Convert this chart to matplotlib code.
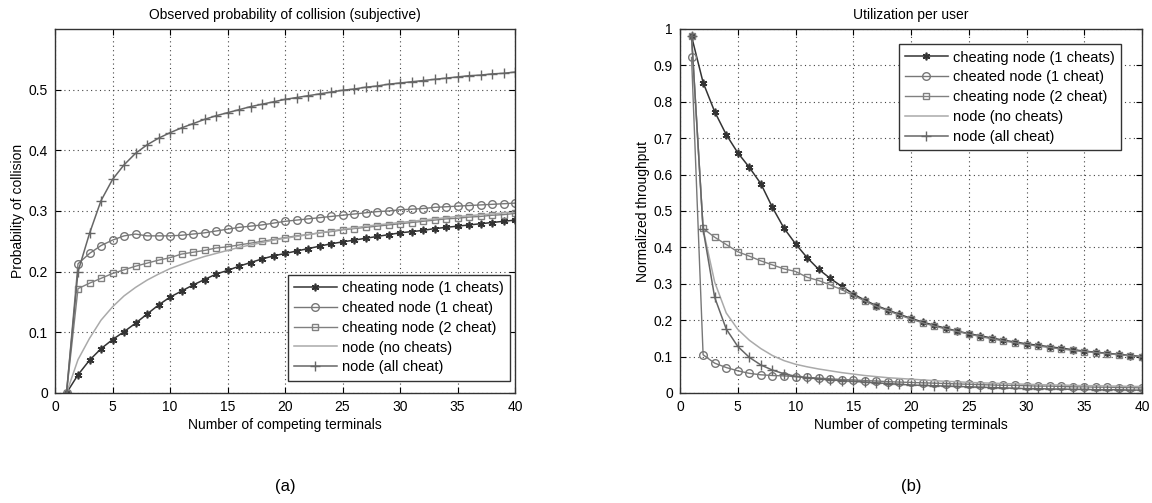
import numpy as np
import matplotlib.pyplot as plt

plt.rcParams['font.family'] = ['Liberation Sans', 'DejaVu Sans']

n = np.arange(1, 41)

# (a) probability of collision
pc_cheat1 = [0, 0.030, 0.054, 0.073, 0.088, 0.101, 0.115, 0.130, 0.145, 0.158,
             0.168, 0.178, 0.187, 0.196, 0.202, 0.209, 0.215, 0.221, 0.226, 0.230,
             0.234, 0.238, 0.242, 0.246, 0.249, 0.252, 0.255, 0.258, 0.261, 0.264,
             0.266, 0.268, 0.271, 0.273, 0.275, 0.277, 0.279, 0.281, 0.283, 0.285]
pc_cheated1 = [0, 0.213, 0.230, 0.243, 0.252, 0.259, 0.262, 0.259, 0.259, 0.259,
               0.260, 0.262, 0.264, 0.267, 0.270, 0.273, 0.275, 0.277, 0.280, 0.283,
               0.285, 0.287, 0.289, 0.291, 0.293, 0.295, 0.297, 0.299, 0.300, 0.302,
               0.303, 0.304, 0.306, 0.307, 0.308, 0.309, 0.310, 0.311, 0.312, 0.313]
pc_cheat2 = [0, 0.172, 0.181, 0.189, 0.197, 0.203, 0.209, 0.214, 0.219, 0.223,
             0.229, 0.232, 0.235, 0.239, 0.241, 0.244, 0.247, 0.250, 0.253, 0.256,
             0.259, 0.261, 0.264, 0.266, 0.269, 0.271, 0.273, 0.275, 0.277, 0.279,
             0.281, 0.283, 0.285, 0.287, 0.288, 0.290, 0.291, 0.293, 0.294, 0.296]
pc_nocheat = [0, 0.055, 0.090, 0.120, 0.142, 0.160, 0.174, 0.186, 0.196, 0.205,
              0.212, 0.219, 0.225, 0.230, 0.235, 0.240, 0.244, 0.248, 0.252, 0.255,
              0.258, 0.261, 0.264, 0.267, 0.270, 0.272, 0.275, 0.277, 0.279, 0.281,
              0.283, 0.285, 0.287, 0.289, 0.291, 0.292, 0.294, 0.295, 0.297, 0.298]
pc_allcheat = [0, 0.200, 0.263, 0.317, 0.352, 0.376, 0.395, 0.409, 0.420, 0.429,
               0.437, 0.444, 0.451, 0.457, 0.462, 0.467, 0.472, 0.476, 0.480, 0.484,
               0.487, 0.490, 0.493, 0.496, 0.499, 0.501, 0.504, 0.506, 0.509, 0.511,
               0.513, 0.515, 0.517, 0.519, 0.521, 0.523, 0.524, 0.526, 0.527, 0.529]

# (b) normalized throughput
th_cheat1 = [0.980, 0.853, 0.773, 0.710, 0.660, 0.620, 0.575, 0.510, 0.453, 0.410,
             0.372, 0.340, 0.315, 0.293, 0.272, 0.255, 0.240, 0.228, 0.216, 0.205,
             0.195, 0.186, 0.178, 0.170, 0.163, 0.157, 0.151, 0.145, 0.140, 0.135,
             0.131, 0.127, 0.123, 0.119, 0.115, 0.112, 0.109, 0.106, 0.103, 0.100]
th_cheated1 = [0.922, 0.105, 0.082, 0.070, 0.061, 0.054, 0.050, 0.048, 0.047, 0.045,
               0.043, 0.041, 0.039, 0.037, 0.036, 0.034, 0.033, 0.031, 0.030, 0.029,
               0.028, 0.027, 0.026, 0.025, 0.024, 0.023, 0.022, 0.021, 0.021, 0.020,
               0.019, 0.019, 0.018, 0.017, 0.017, 0.016, 0.016, 0.015, 0.015, 0.014]
th_cheat2 = [0.980, 0.452, 0.428, 0.408, 0.388, 0.376, 0.363, 0.352, 0.341, 0.334,
             0.318, 0.309, 0.297, 0.284, 0.268, 0.253, 0.238, 0.226, 0.214, 0.203,
             0.193, 0.184, 0.176, 0.169, 0.162, 0.155, 0.149, 0.143, 0.138, 0.133,
             0.129, 0.125, 0.121, 0.117, 0.114, 0.111, 0.108, 0.105, 0.102, 0.099]
th_nocheat = [0.980, 0.450, 0.305, 0.220, 0.175, 0.145, 0.122, 0.103, 0.089, 0.079,
              0.072, 0.066, 0.061, 0.056, 0.052, 0.048, 0.045, 0.042, 0.040, 0.038,
              0.036, 0.034, 0.032, 0.031, 0.029, 0.028, 0.027, 0.026, 0.025, 0.024,
              0.023, 0.022, 0.022, 0.021, 0.020, 0.020, 0.019, 0.019, 0.018, 0.018]
th_allcheat = [0.980, 0.450, 0.263, 0.176, 0.128, 0.098, 0.077, 0.063, 0.053, 0.046,
               0.042, 0.039, 0.036, 0.034, 0.032, 0.030, 0.028, 0.026, 0.024, 0.022,
               0.021, 0.020, 0.019, 0.018, 0.017, 0.016, 0.015, 0.014, 0.013, 0.012,
               0.012, 0.011, 0.011, 0.010, 0.010, 0.009, 0.009, 0.009, 0.008, 0.008]

labels = ['cheating node (1 cheats)', 'cheated node (1 cheat)', 'cheating node (2 cheat)',
          'node (no cheats)', 'node (all cheat)']
styles = [dict(color='#333333', marker=(6, 2, 0), ms=5.5, mew=1.2, lw=1.1),
          dict(color='#777777', marker='o', ms=5.5, mfc='none', mew=1.0, lw=1.0),
          dict(color='#808080', marker='s', ms=4, mfc='none', mew=1.0, lw=1.0),
          dict(color='#aaaaaa', marker='None', lw=1.1),
          dict(color='#666666', marker='+', ms=7, mew=1.0, lw=1.1)]

W, H = 1152, 503
fig = plt.figure(figsize=(W / 100, H / 100), dpi=100)
ax1 = fig.add_axes([55 / W, 1 - 393 / H, 460 / W, 364 / H])
ax2 = fig.add_axes([680 / W, 1 - 393 / H, 462 / W, 364 / H])


def style_axes(ax):
    ax.grid(True, linestyle=(0, (1, 3)), color='#444444', linewidth=0.8)
    ax.tick_params(direction='in', top=True, right=True, labelsize=10, length=4, pad=5)
    ax.set_xlim(0, 40)
    ax.set_xticks(range(0, 41, 5))
    for s in ax.spines.values():
        s.set_linewidth(1.0)
        s.set_color('#333333')


def add_legend(ax, loc, anchor):
    leg = ax.legend(loc=loc, bbox_to_anchor=anchor, fontsize=10.5, fancybox=False,
                    edgecolor='#333333', framealpha=1, borderaxespad=0,
                    handlelength=2.9, handletextpad=0.35, labelspacing=0.4,
                    borderpad=0.45)
    leg.get_frame().set_linewidth(1.0)


for y, lab, st in zip([pc_cheat1, pc_cheated1, pc_cheat2, pc_nocheat, pc_allcheat], labels, styles):
    ax1.plot(n, y, label=lab, **st)
style_axes(ax1)
ax1.set_ylim(0, 0.6)
ax1.set_yticks([0, 0.1, 0.2, 0.3, 0.4, 0.5])
ax1.set_yticklabels(['0', '0.1', '0.2', '0.3', '0.4', '0.5'])
ax1.set_title('Observed probability of collision (subjective)', fontsize=10, pad=7)
ax1.set_xlabel('Number of competing terminals', fontsize=10, labelpad=3)
ax1.set_ylabel('Probability of collision', fontsize=10, labelpad=3)
add_legend(ax1, 'lower right', (455 / 460, 12 / 364))

for y, lab, st in zip([th_cheat1, th_cheated1, th_cheat2, th_nocheat, th_allcheat], labels, styles):
    ax2.plot(n, y, label=lab, **st)
style_axes(ax2)
ax2.set_ylim(0, 1)
ax2.set_yticks(np.arange(0, 1.01, 0.1))
ax2.set_yticklabels(['0', '0.1', '0.2', '0.3', '0.4', '0.5', '0.6', '0.7', '0.8', '0.9', '1'])
ax2.set_title('Utilization per user', fontsize=10, pad=7)
ax2.set_xlabel('Number of competing terminals', fontsize=10, labelpad=3)
ax2.set_ylabel('Normalized throughput', fontsize=10, labelpad=3)
add_legend(ax2, 'upper right', (441 / 462, 349 / 364))

fig.text(285 / W, 1 - 487 / H, '(a)', ha='center', va='center', fontsize=12)
fig.text(911 / W, 1 - 487 / H, '(b)', ha='center', va='center', fontsize=12)

fig.savefig('out.png', dpi=100)
